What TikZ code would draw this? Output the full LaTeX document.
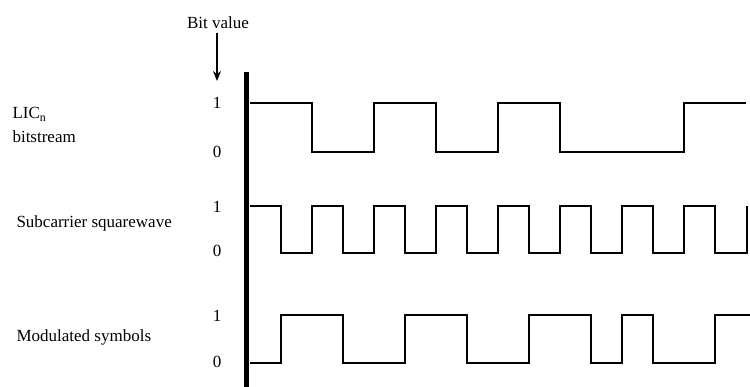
\documentclass[tikz,border=0pt]{standalone}
\usepackage{fontspec}
\setmainfont{Liberation Serif}
\usetikzlibrary{arrows.meta}
\begin{document}
\begin{tikzpicture}[x=1pt,y=-1pt, font=\fontsize{17}{24}\selectfont,
    wave/.style={line width=1.7pt, line join=miter},
    lvl/.style={anchor=center}]
    \useasboundingbox (0,0) rectangle (750,387);

    % Bit value marker and axis
    \node[anchor=center] (bitval) at (218,23) {Bit value};
    \coordinate (tip) at (217,81);
    \draw[line width=1.2pt, -{Stealth[length=10pt,width=8pt]}] (bitval.south -| tip) -- (tip);
    \draw[line width=5pt] (246,72) -- (246,387);

    % Row labels
    \node[anchor=west, align=left] (lic) at (9,125) {LIC\textsubscript{n}\\bitstream};
    \node[anchor=west] (sub) at (13,223) {Subcarrier squarewave};
    \node[anchor=west] (mod) at (13,337) {Modulated symbols};

    % Bit values
    \node[lvl] (one1) at (217,103) {1};
    \node[lvl] (zero1) at (217,152) {0};
    \node[lvl] (one2) at (217,207) {1};
    \node[lvl] (zero2) at (217,251) {0};
    \node[lvl] (one3) at (217,316) {1};
    \node[lvl] (zero3) at (217,362) {0};

    % LIC bitstream: 1 0 1 0 1 0 0 1
    \draw[wave] (250,103) -- (312,103) -- (312,152) -- (374,152) -- (374,103)
        -- (436,103) -- (436,152) -- (498,152) -- (498,103) -- (560,103)
        -- (560,152) -- (684,152) -- (684,103) -- (746,103);

    % Subcarrier squarewave
    \draw[wave] (250,206) -- (281,206) -- (281,253) -- (312,253) -- (312,206)
        -- (343,206) -- (343,253) -- (374,253) -- (374,206) -- (405,206)
        -- (405,253) -- (436,253) -- (436,206) -- (467,206) -- (467,253)
        -- (498,253) -- (498,206) -- (529,206) -- (529,253) -- (560,253)
        -- (560,206) -- (591,206) -- (591,253) -- (622,253) -- (622,206)
        -- (653,206) -- (653,253) -- (684,253) -- (684,206) -- (715,206)
        -- (715,253) -- (747,253) -- (747,206);

    % Modulated symbols
    \draw[wave] (250,363) -- (281,363) -- (281,315) -- (343,315) -- (343,363)
        -- (405,363) -- (405,315) -- (467,315) -- (467,363) -- (529,363)
        -- (529,315) -- (591,315) -- (591,363) -- (622,363) -- (622,315)
        -- (653,315) -- (653,363) -- (715,363) -- (715,315) -- (750,315);
\end{tikzpicture}
\end{document}
